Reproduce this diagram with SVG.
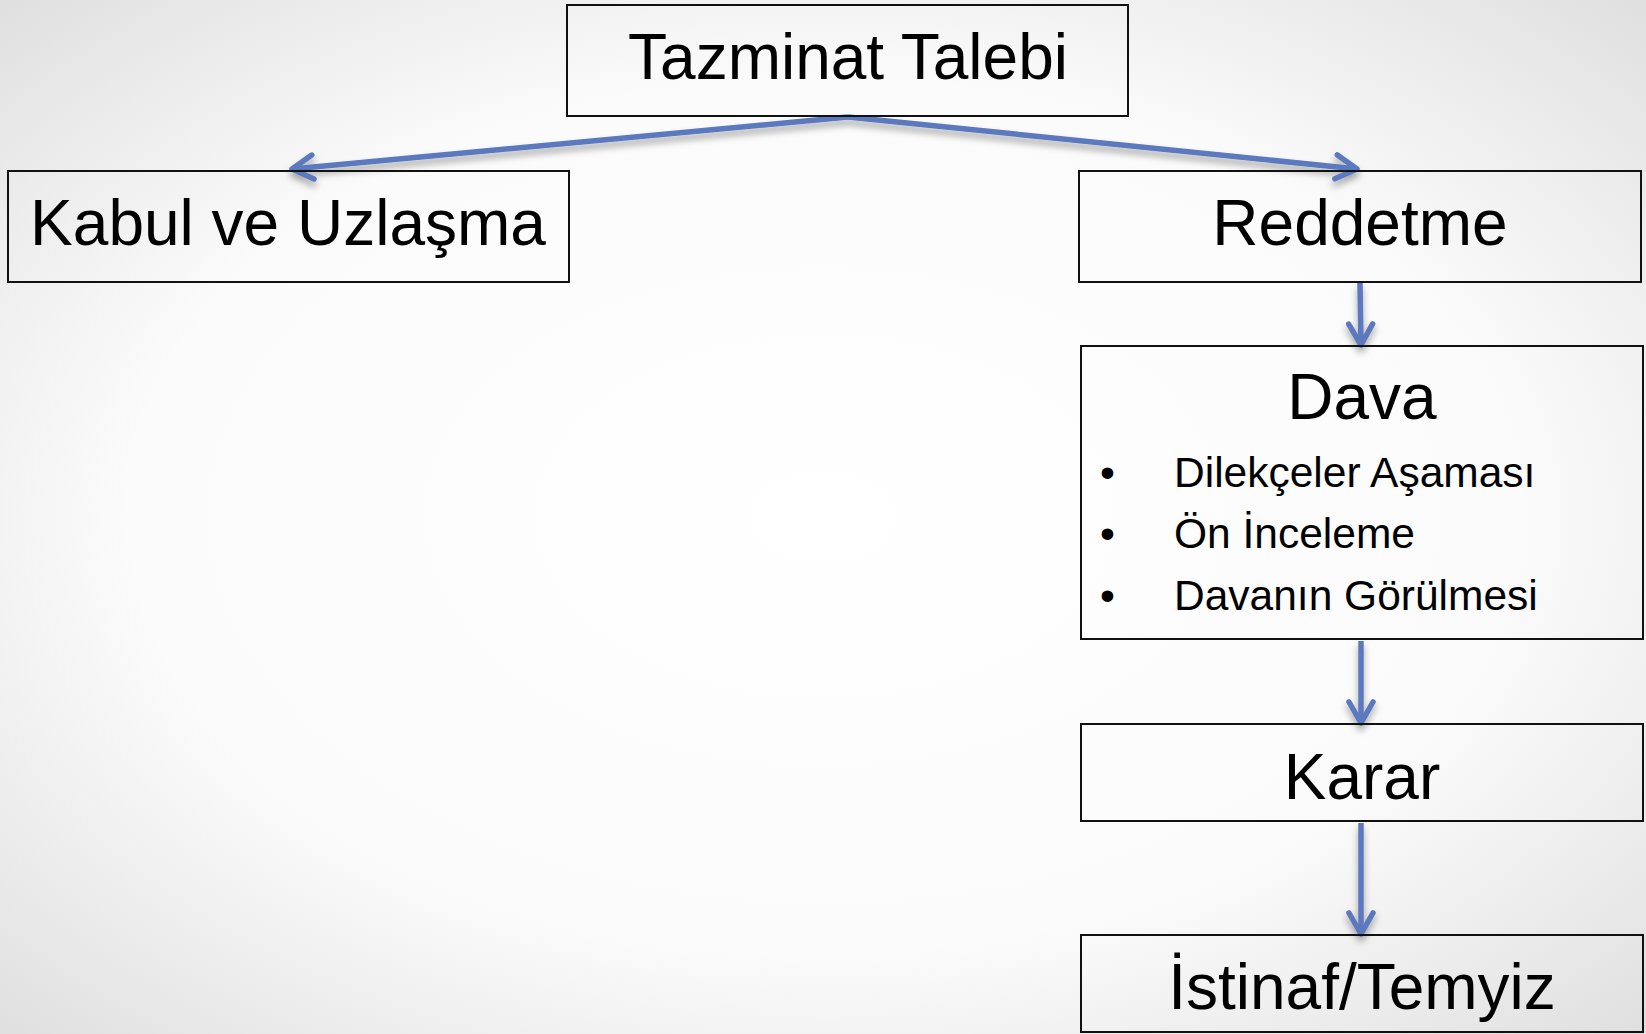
<svg xmlns="http://www.w3.org/2000/svg" width="1646" height="1034" viewBox="0 0 1646 1034">
<style>
.box{fill:none;stroke:#111;stroke-width:2}
.t{font-family:"Liberation Sans",Arial,sans-serif;fill:#000;text-anchor:middle}
.big{font-size:64px}
.small{font-size:42.5px;text-anchor:start}
.con{stroke:#5b79bd;stroke-width:5.5;fill:none}
</style>
<defs>
<radialGradient id="bg" cx="50%" cy="50%" r="70%">
<stop offset="0" stop-color="#ffffff"/>
<stop offset="0.6" stop-color="#fbfbfb"/>
<stop offset="1" stop-color="#e0e0e0"/>
</radialGradient>
<marker id="ah" viewBox="0 0 30 30" refX="26" refY="15" markerWidth="30" markerHeight="30" markerUnits="userSpaceOnUse" orient="auto">
<path d="M5,3 L26,15 L5,27" fill="none" stroke="#5b79bd" stroke-width="5.5" stroke-linecap="round" stroke-linejoin="round"/>
</marker>
<filter id="sh" x="-10%" y="-50%" width="120%" height="300%">
<feDropShadow dx="0" dy="5" stdDeviation="3.5" flood-color="#000" flood-opacity="0.35"/>
</filter>
</defs>
<rect width="1646" height="1034" fill="url(#bg)"/>
<g id="connectors" filter="url(#sh)">
<path class="con" d="M848,117 L292,169" marker-end="url(#ah)"/>
<path class="con" d="M848,117 L1357,169" marker-end="url(#ah)"/>
<path class="con" d="M1360,283 L1361,345" marker-end="url(#ah)"/>
<path class="con" d="M1361,641 L1361,723" marker-end="url(#ah)"/>
<path class="con" d="M1361,823 L1361,934" marker-end="url(#ah)"/>
</g>
<g id="tazminat">
<rect class="box" x="567" y="5" width="561" height="111"/>
<text class="t big" x="848" y="79">Tazminat Talebi</text>
</g>
<g id="kabul">
<rect class="box" x="8" y="171" width="561" height="111"/>
<text class="t big" x="288" y="245">Kabul ve Uzlaşma</text>
</g>
<g id="reddetme">
<rect class="box" x="1079" y="171" width="562" height="111"/>
<text class="t big" x="1360" y="245">Reddetme</text>
</g>
<g id="dava">
<rect class="box" x="1081" y="346" width="562" height="293"/>
<text class="t big" x="1362" y="419">Dava</text>
<text class="t small" x="1100" y="487">•</text>
<text class="t small" x="1174" y="487">Dilekçeler Aşaması</text>
<text class="t small" x="1100" y="548">•</text>
<text class="t small" x="1174" y="548">Ön İnceleme</text>
<text class="t small" x="1100" y="610">•</text>
<text class="t small" x="1174" y="610">Davanın Görülmesi</text>
</g>
<g id="karar">
<rect class="box" x="1081" y="724" width="562" height="97"/>
<text class="t big" x="1362" y="799">Karar</text>
</g>
<g id="istinaf">
<rect class="box" x="1081" y="935" width="562" height="97"/>
<text class="t big" x="1362" y="1009">İstinaf/Temyiz</text>
</g>
</svg>
